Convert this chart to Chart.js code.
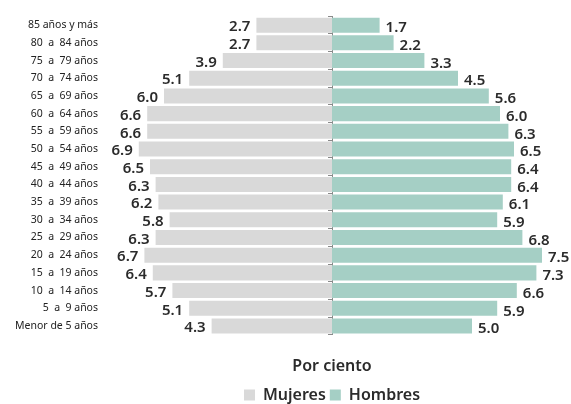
<!DOCTYPE html>
<html>
<head>
<meta charset="utf-8">
<script src="https://cdn.jsdelivr.net/npm/chart.js@4"></script>
<style>
  html, body { margin: 0; padding: 0; background: #fff; }
  #wrap { width: 571px; height: 404px; }
</style>
</head>
<body>
<div id="wrap"><canvas id="piramide"></canvas></div>
<script>
const categorias = ['85 años y más', '80  a  84 años', '75  a  79 años', '70  a  74 años', '65  a  69 años',
  '60  a  64 años', '55  a  59 años', '50  a  54 años', '45  a  49 años', '40  a  44 años', '35  a  39 años',
  '30  a  34 años', '25  a  29 años', '20  a  24 años', '15  a  19 años', '10  a  14 años', '5  a  9 años',
  'Menor de 5 años'];
const mujeres = [2.7, 2.7, 3.9, 5.1, 6.0, 6.6, 6.6, 6.9, 6.5, 6.3, 6.2, 5.8, 6.3, 6.7, 6.4, 5.7, 5.1, 4.3];
const hombres = [1.7, 2.2, 3.3, 4.5, 5.6, 6.0, 6.3, 6.5, 6.4, 6.4, 6.1, 5.9, 6.8, 7.5, 7.3, 6.6, 5.9, 5.0];

const FONT = "'Noto Sans', sans-serif";
const TEXT = '#2b2b2b';

// value labels next to the end of each bar
const etiquetas = {
  id: 'etiquetas',
  afterDatasetsDraw(chart) {
    const ctx = chart.ctx;
    ctx.save();
    ctx.font = '600 15px ' + FONT;
    ctx.fillStyle = TEXT;
    ctx.textBaseline = 'middle';
    chart.data.datasets.forEach((ds, i) => {
      const meta = chart.getDatasetMeta(i);
      meta.data.forEach((bar, j) => {
        const v = Math.abs(ds.data[j]).toFixed(1);
        if (ds.data[j] < 0) {
          ctx.textAlign = 'right';
          ctx.fillText(v, bar.x - 6, bar.y + 2);
        } else {
          ctx.textAlign = 'left';
          ctx.fillText(v, bar.x + 6, bar.y + 3);
        }
      });
    });
    ctx.restore();
  }
};

const ctx = document.getElementById('piramide').getContext('2d');

const data = {
  labels: categorias,
  datasets: [
    {
      label: 'Mujeres',
      data: mujeres.map(v => -v),
      backgroundColor: '#d9d9d9',
      borderWidth: 0,
      barPercentage: 0.85,
      categoryPercentage: 1
    },
    {
      label: 'Hombres',
      data: hombres,
      backgroundColor: '#a5cfc5',
      borderWidth: 0,
      barPercentage: 0.85,
      categoryPercentage: 1
    }
  ]
};

const options = {
  indexAxis: 'y',
  responsive: true,
  maintainAspectRatio: false,
  animation: false,
  layout: {
    padding: { top: 9, right: 15, bottom: -9, left: 0 }
  },
  plugins: {
    tooltip: { enabled: false },
    legend: {
      position: 'bottom',
      fullSize: false,
      labels: {
        boxWidth: 11,
        boxHeight: 11,
        padding: 4,
        color: TEXT,
        font: { family: FONT, size: 16, weight: '600' }
      }
    }
  },
  scales: {
    x: {
      min: -8,
      max: 8,
      stacked: true,
      ticks: { display: false },
      grid: { display: false },
      border: { display: false },
      title: {
        display: true,
        text: 'Por ciento',
        color: TEXT,
        font: { family: FONT, size: 16, weight: '600' },
        padding: { top: 14, bottom: 7 }
      }
    },
    y: {
      stacked: true,
      grid: { display: false, drawTicks: false },
      border: { display: false },
      ticks: {
        padding: 10,
        color: '#222',
        font: { family: FONT, size: 10.5 }
      },
      afterFit(scale) {
        scale.width = 108;
      }
    },
    yc: {
      type: 'category',
      position: { x: 0 },
      offset: true,
      ticks: { display: false },
      grid: { drawOnChartArea: false, offset: true, tickLength: 4, color: '#8a8a8a' },
      border: { color: '#8a8a8a' }
    }
  }
};

const piramide = new Chart(ctx, { type: 'bar', data: data, options: options, plugins: [etiquetas] });
</script>
</body>
</html>
